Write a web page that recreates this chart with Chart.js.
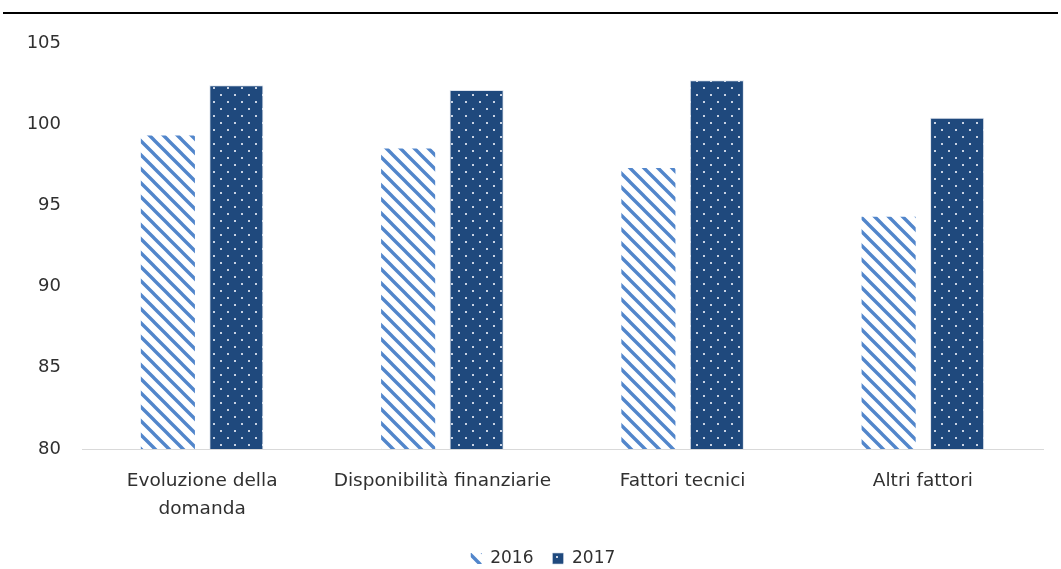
<!DOCTYPE html>
<html>
<head>
<meta charset="utf-8">
<script src="https://cdn.jsdelivr.net/npm/chart.js@4/dist/chart.umd.min.js"></script>
<style>
	body { margin: 0; background: #ffffff; overflow: hidden; }
	#rule { position: absolute; left: 3px; right: 3px; top: 12px; border-top: 2px solid #000000; }
	#wrap { position: absolute; left: 0; top: 0; width: 1061px; height: 577px; }
</style>
</head>
<body>
<div id="rule"></div>
<div id="wrap"><canvas id="fattori"></canvas></div>
<script>
var categories = [['Evoluzione della', 'domanda'], 'Disponibilità finanziarie', 'Fattori tecnici', 'Altri fattori']
var series2016 = [99.3, 98.5, 97.3, 94.3]
var series2017 = [102.4, 102.1, 102.7, 100.4]
var yTicks = [80, 85, 90, 95, 100, 105]

// diagonal light blue stripes on white
function stripes()
{
	var c = document.createElement('canvas')
	c.width = 14
	c.height = 14
	var g = c.getContext('2d')
	g.fillStyle = '#ffffff'
	g.fillRect(0, 0, 14, 14)
	g.strokeStyle = '#5286cb'
	g.lineWidth = 3.4
	g.beginPath()
	g.moveTo(-7, -7); g.lineTo(21, 21)
	g.moveTo(-7, 7); g.lineTo(7, 21)
	g.moveTo(7, -7); g.lineTo(21, 7)
	g.stroke()
	return g.createPattern(c, 'repeat')
}

// navy fill with small staggered dots
function dots()
{
	var c = document.createElement('canvas')
	c.width = 14
	c.height = 14
	var g = c.getContext('2d')
	g.fillStyle = '#1f497d'
	g.fillRect(0, 0, 14, 14)
	g.fillStyle = '#c9d3e3'
	g.fillRect(3, 3, 2, 2)
	g.fillRect(10, 10, 2, 2)
	return g.createPattern(c, 'repeat')
}

// legend sits a bit right of the page centre
var legendShift = {
	id: 'legendShift',
	afterLayout: function(chart)
	{
		chart.legend.left += 18
		chart.legend.right += 18
	}
}

window.onload = function()
{
	var ctx = document.getElementById('fattori')
	var textColor = '#303030'
	var chart = new Chart(ctx, {
		type: 'bar',
		data: {
			labels: categories,
			datasets: [
				{
					label: '2016',
					data: series2016,
					backgroundColor: stripes(),
					borderWidth: 0
				},
				{
					label: '2017',
					data: series2017,
					backgroundColor: dots(),
					borderColor: 'rgba(200, 210, 225, 0.6)',
					borderWidth: 1
				}
			]
		},
		plugins: [legendShift],
		options: {
			responsive: true,
			maintainAspectRatio: false,
			animation: false,
			categoryPercentage: 0.57,
			barPercentage: 0.79,
			layout: {
				padding: { left: 7, right: 18, top: 43, bottom: 0 }
			},
			plugins: {
				legend: {
					position: 'bottom',
					labels: {
						color: textColor,
						boxWidth: 11,
						boxHeight: 11,
						padding: 19,
						font: { family: 'DejaVu Sans', size: 17 }
					}
				},
				tooltip: { enabled: false }
			},
			scales: {
				y: {
					min: 80,
					max: 105,
					afterBuildTicks: function(axis)
					{
						axis.ticks = yTicks.map(function(v){ return { value: v } })
					},
					afterFit: function(axis)
					{
						axis.width = 75
					},
					grid: { display: false },
					border: { display: false },
					ticks: {
						color: textColor,
						padding: 13,
						font: { family: 'DejaVu Sans', size: 18 }
					}
				},
				x: {
					afterFit: function(axis)
					{
						axis.height -= 2
					},
					grid: { display: false },
					border: { display: true, color: '#d9d9d9', width: 1 },
					ticks: {
						color: textColor,
						padding: 10,
						maxRotation: 0,
						autoSkip: false,
						font: { family: 'DejaVu Sans', size: 18.5, lineHeight: '28px' }
					}
				}
			}
		}
	})
}
</script>
</body>
</html>
